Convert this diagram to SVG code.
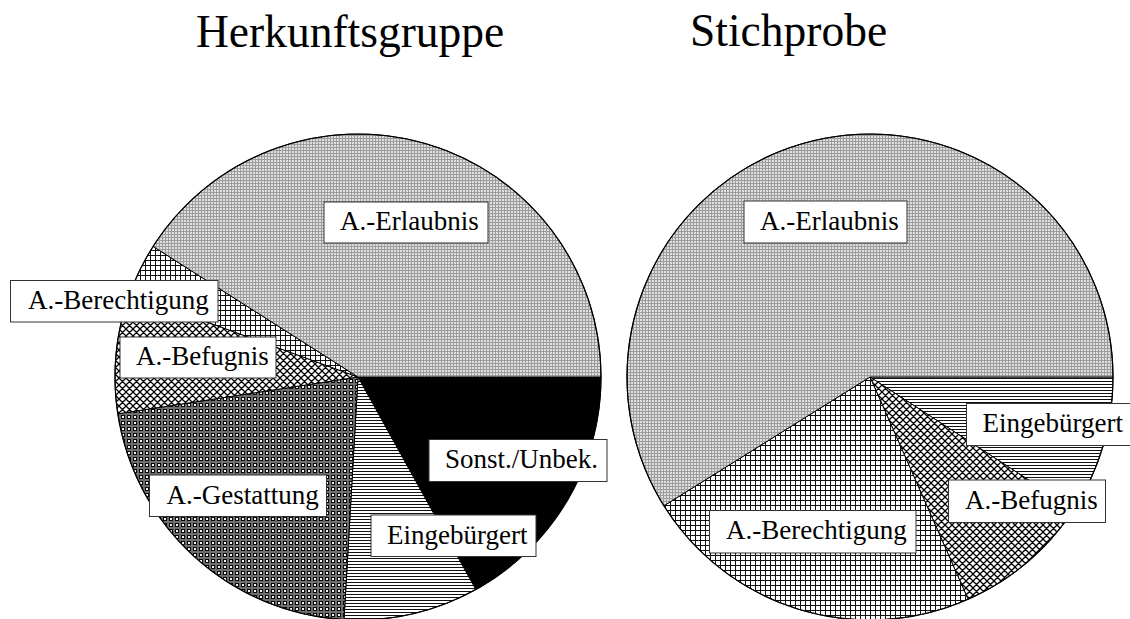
<svg xmlns="http://www.w3.org/2000/svg" width="1130" height="619" viewBox="0 0 1130 619">
<style>
.t{font-family:"Liberation Serif","Times New Roman",serif;fill:#000}
.title{font-size:45.5px}
.lbl{font-size:27px}
.box{fill:#fff;stroke:#333;stroke-width:1}
.sl{stroke:#000;stroke-width:1;stroke-linejoin:round}
.rim{fill:none;stroke:#000;stroke-width:1.2}
</style>
<defs>
<pattern id="pErl" patternUnits="userSpaceOnUse" width="3" height="3">
<rect width="3" height="3" fill="#9c9c9c"/>
<rect x="1" y="1" width="2" height="2" fill="#dedede"/>
</pattern>
<pattern id="pGrid" patternUnits="userSpaceOnUse" width="5" height="5">
<rect width="5" height="5" fill="#fff"/>
<rect width="5" height="1" fill="#111"/>
<rect width="1" height="5" fill="#111"/>
</pattern>
<pattern id="pCross" patternUnits="userSpaceOnUse" width="7" height="7">
<rect width="7" height="7" fill="#fff"/>
<path d="M0,0L7,7M0,7L7,0M-1,1L1,-1M6,8L8,6M-1,6L1,8M6,-1L8,1" stroke="#000" stroke-width="1.3"/>
</pattern>
<pattern id="pDense" patternUnits="userSpaceOnUse" width="6" height="6">
<rect width="6" height="6" fill="#6e6e6e"/>
<rect x="1" y="1" width="4" height="4" fill="#0a0a0a"/>
<rect x="2" y="2" width="2" height="2" fill="#f4f4f4"/>
</pattern>
<pattern id="pHoriz" patternUnits="userSpaceOnUse" width="6" height="3">
<rect width="6" height="3" fill="#fff"/>
<rect width="6" height="1" fill="#111"/>
</pattern>
</defs>
<rect width="1130" height="619" fill="#fff"/>
<text class="t title" x="196" y="47">Herkunftsgruppe</text>
<text class="t title" x="690" y="46">Stichprobe</text>
<g id="pie-left">
<path class="sl" fill="#000" d="M358,377 L601,377 A243,243 0 0,1 475.8,589.5 Z"/>
<path class="sl" fill="url(#pHoriz)" d="M358,377 L475.8,589.5 A243,243 0 0,1 344,619.6 Z"/>
<path class="sl" fill="url(#pDense)" d="M358,377 L344,619.6 A243,243 0 0,1 117.8,413.8 Z"/>
<path class="sl" fill="url(#pCross)" d="M358,377 L117.8,413.8 A243,243 0 0,1 129.7,293.9 Z"/>
<path class="sl" fill="url(#pGrid)" d="M358,377 L129.7,293.9 A243,243 0 0,1 153.1,246.4 Z"/>
<path class="sl" fill="url(#pErl)" d="M358,377 L153.1,246.4 A243,243 0 0,1 601,377 Z"/>
<circle class="rim" cx="358" cy="377" r="243"/>
</g>
<g id="pie-right">
<path class="sl" fill="url(#pHoriz)" d="M870,377 L1113,377 A243,243 0 0,1 1073.8,509.3 Z"/>
<path class="sl" fill="url(#pCross)" d="M870,377 L1073.8,509.3 A243,243 0 0,1 968.1,599.3 Z"/>
<path class="sl" fill="url(#pGrid)" d="M870,377 L968.1,599.3 A243,243 0 0,1 663.9,505.8 Z"/>
<path class="sl" fill="url(#pErl)" d="M870,377 L663.9,505.8 A243,243 0 1,1 1113,377 Z"/>
<circle class="rim" cx="870" cy="377" r="243"/>
</g>
<g id="label-left-erlaubnis"><rect class="box" x="324" y="202" width="164" height="41"/><text class="t lbl" x="340" y="230">A.-Erlaubnis</text></g>
<g id="label-left-berechtigung"><rect class="box" x="10.5" y="280.5" width="207.5" height="41.5"/><text class="t lbl" x="28" y="309">A.-Berechtigung</text></g>
<g id="label-left-befugnis"><rect class="box" x="120" y="337" width="156" height="41"/><text class="t lbl" x="136" y="365">A.-Befugnis</text></g>
<g id="label-left-sonst"><rect class="box" x="429" y="439.5" width="178" height="42"/><text class="t lbl" x="445" y="468">Sonst./Unbek.</text></g>
<g id="label-left-gestattung"><rect class="box" x="149.5" y="475" width="177" height="41.5"/><text class="t lbl" x="166.5" y="503.5">A.-Gestattung</text></g>
<g id="label-left-eingeb"><rect class="box" x="371" y="515" width="165" height="41.5"/><text class="t lbl" x="387" y="543.5">Eingebürgert</text></g>
<g id="label-right-erlaubnis"><rect class="box" x="744" y="201" width="163" height="42"/><text class="t lbl" x="760" y="229.5">A.-Erlaubnis</text></g>
<g id="label-right-eingeb"><rect class="box" x="966.5" y="403.5" width="170" height="42"/><text class="t lbl" x="982.5" y="432">Eingebürgert</text></g>
<g id="label-right-befugnis"><rect class="box" x="948.5" y="480" width="157" height="42.5"/><text class="t lbl" x="965" y="508.5">A.-Befugnis</text></g>
<g id="label-right-berechtigung"><rect class="box" x="709.5" y="510.5" width="206.5" height="42.5"/><text class="t lbl" x="726" y="539">A.-Berechtigung</text></g>
</svg>
